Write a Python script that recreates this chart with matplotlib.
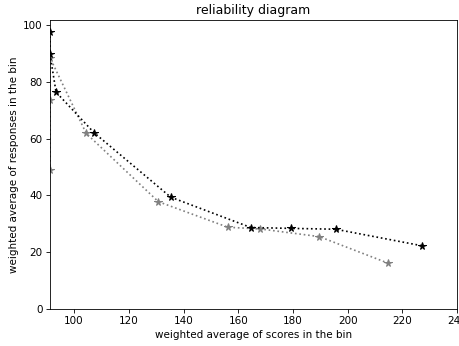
import matplotlib
matplotlib.use("Agg")
import matplotlib.pyplot as plt

# black series (drawn on top)
x_black = [91.2, 91.2, 93.4, 107.3, 135.3, 164.6, 179.3, 195.6, 227.0]
y_black = [97.6, 89.7, 76.4, 62.1, 39.4, 28.7, 28.4, 28.1, 22.3]

# gray series
x_gray = [91.2, 91.2, 91.2, 104.4, 130.8, 156.2, 168.0, 189.6, 214.6]
y_gray = [48.8, 73.6, 88.5, 61.9, 37.8, 28.8, 28.2, 25.5, 16.2]


def main():
    # saved at 75 dpi so text and lines come out at the reference's scale
    fig = plt.figure(figsize=(459 / 75, 346 / 75), dpi=75)
    ax = fig.add_axes([0.109, 0.107, 0.887, 0.835])
    ax.plot(x_gray, y_gray, ":*", color="gray", markersize=7.5, linewidth=1.6)
    ax.plot(x_black, y_black, ":*", color="black", markersize=7.5, linewidth=1.6)
    ax.set_xlim(91.2, 240)
    ax.set_ylim(0, 101.8)
    ax.set_title("reliability diagram")
    ax.set_xlabel("weighted average of scores in the bin")
    ax.set_ylabel("weighted average of responses in the bin")
    fig.savefig("out.png", dpi=75)


if __name__ == "__main__":
    main()
